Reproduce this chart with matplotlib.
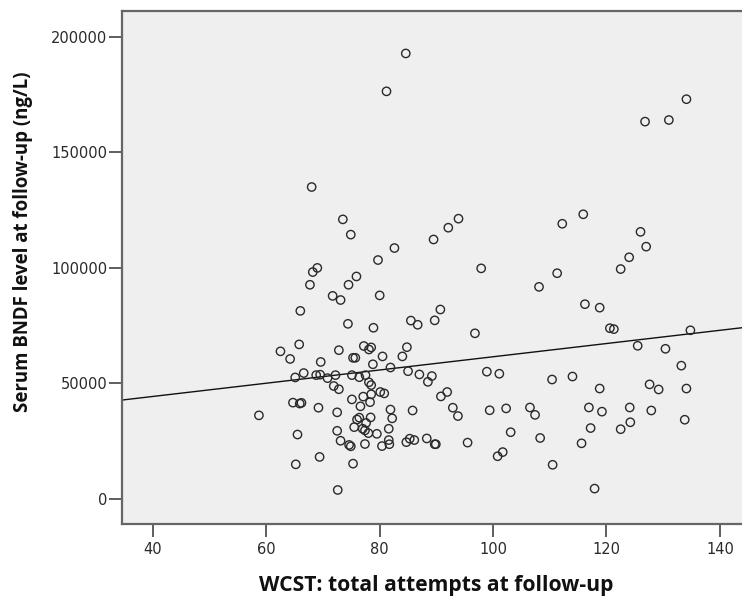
import numpy as np
import matplotlib
matplotlib.use("Agg")
import matplotlib.pyplot as plt

# WCST total attempts at follow-up
wcst = [84.6, 81.2, 134.1, 126.8, 131.0, 68.0, 73.5, 93.9, 115.9, 112.2,
        92.1, 74.9, 126.0, 89.5, 82.6, 127.0, 124.0, 79.7, 97.9, 68.2,
        69.0, 122.5, 111.3, 75.9, 67.7, 74.5, 108.1, 80.0, 71.7, 73.1,
        116.2, 118.8, 66.0, 90.7, 85.5, 89.7, 86.7, 74.4, 78.9, 96.8,
        120.6, 121.3, 134.8, 65.8, 125.5, 130.4, 77.2, 78.1, 78.5, 84.8,
        62.5, 72.8, 64.2, 75.3, 75.7, 80.5, 84.0, 69.6, 78.8, 81.9,
        133.2, 66.6, 65.1, 68.8, 69.5, 70.8, 72.2, 75.1, 76.4, 77.5,
        85.0, 87.0, 89.2, 88.5, 98.9, 101.1, 110.4, 114.0, 78.1, 78.5,
        71.9, 72.8, 127.6, 129.2, 134.1, 118.8, 80.1, 80.8, 91.9, 90.8,
        75.1, 77.1, 78.5, 78.3, 76.6, 64.7, 65.9, 66.2, 69.2, 58.7,
        72.5, 81.9, 85.8, 92.9, 93.8, 99.4, 102.3, 106.5, 107.4, 116.9,
        119.2, 124.1, 127.9, 82.2, 76.0, 76.4, 78.4, 77.6, 75.5, 77.0,
        77.4, 78.0, 79.5, 81.6, 72.5, 103.1, 117.2, 122.5, 124.2, 133.8,
        65.5, 73.1, 74.6, 74.9, 77.4, 80.4, 81.6, 81.7, 84.7, 85.3,
        86.1, 88.3, 89.7, 89.9, 95.5, 108.3, 115.6, 69.4, 65.2, 75.3,
        100.8, 101.7, 110.5, 72.6, 117.9]

# Serum BNDF level at follow-up (ng/L)
bdnf = [192800, 176400, 173000, 163300, 164000, 135000, 121000, 121300, 123200, 119100,
        117400, 114400, 115600, 112300, 108600, 109200, 104600, 103400, 99800, 98200,
        100000, 99500, 97700, 96300, 92700, 92700, 91800, 88100, 87900, 86100,
        84300, 82800, 81400, 82000, 77200, 77300, 75400, 75800, 74100, 71700,
        73900, 73500, 73000, 66900, 66300, 65000, 66200, 64700, 65600, 65700,
        63900, 64400, 60600, 61100, 61100, 61700, 61700, 59300, 58300, 56900,
        57700, 54500, 52600, 53600, 53800, 52300, 53600, 53600, 52700, 53600,
        55300, 53900, 53200, 50700, 55100, 54200, 51700, 53000, 50500, 49300,
        48900, 47500, 49600, 47400, 47800, 47800, 46300, 45700, 46300, 44400,
        43100, 44300, 45300, 41900, 40100, 41700, 41300, 41600, 39500, 36200,
        37500, 38700, 38300, 39500, 35900, 38400, 39200, 39600, 36400, 39600,
        37800, 39600, 38300, 34900, 34400, 35200, 35300, 32900, 31100, 30400,
        29700, 28500, 28200, 30400, 29500, 28900, 30700, 30200, 33200, 34300,
        27900, 25200, 23400, 22800, 23800, 22900, 25500, 23700, 24600, 26100,
        25500, 26200, 23700, 23700, 24400, 26400, 24100, 18200, 15000, 15300,
        18500, 20300, 14800, 3900, 4500]

x_ticks = [40, 60, 80, 100, 120, 140]
y_ticks = [0, 50000, 100000, 150000, 200000]

W, H = 742, 601
fig = plt.figure(figsize=(W / 100, H / 100), dpi=100)
ax = fig.add_axes([122.0 / W, 1 - 524.4 / H, 1 - 122.0 / W, (524.4 - 11.2) / H])
ax.set_facecolor("#EFEFEF")

xlim = (34.55, 143.9)
ylim = (-10990, 211080)
ax.set_xlim(*xlim)
ax.set_ylim(*ylim)

ax.scatter(wcst, bdnf, s=36, facecolors="none", edgecolors="#2a2a2a",
           linewidths=1.0, zorder=3)

coef = np.polyfit(np.array(wcst), np.array(bdnf), 1)
xs = np.array(xlim)
ax.plot(xs, np.polyval(coef, xs), color="#111111", lw=1.0, zorder=2)

for s in ["left", "bottom", "top"]:
    ax.spines[s].set_color("#666666")
    ax.spines[s].set_linewidth(1.6)
ax.spines["right"].set_visible(False)

ax.set_xticks(x_ticks)
ax.set_yticks(y_ticks)
ax.set_yticklabels([str(v) for v in y_ticks])
ax.tick_params(axis="both", direction="out", length=9.2, width=1.1, color="#333333",
               labelsize=10.5, labelcolor="#2a2a2a")
ax.tick_params(axis="x", pad=3.5)
ax.tick_params(axis="y", pad=1.2)

ax.set_xlabel("WCST: total attempts at follow-up", fontsize=15.2, fontweight="bold",
              family="Open Sans", color="#111111")
ax.set_ylabel("Serum BNDF level at follow-up (ng/L)", fontsize=13.4, fontweight="bold",
              family="Open Sans", color="#111111")
ax.xaxis.label.set_va("center")
ax.yaxis.label.set_va("center")
ax.xaxis.set_label_coords(436 / W, 1 - 586 / H, transform=fig.transFigure)
ax.yaxis.set_label_coords(23.5 / W, 1 - 242 / H, transform=fig.transFigure)

fig.savefig("out.png", dpi=100)
